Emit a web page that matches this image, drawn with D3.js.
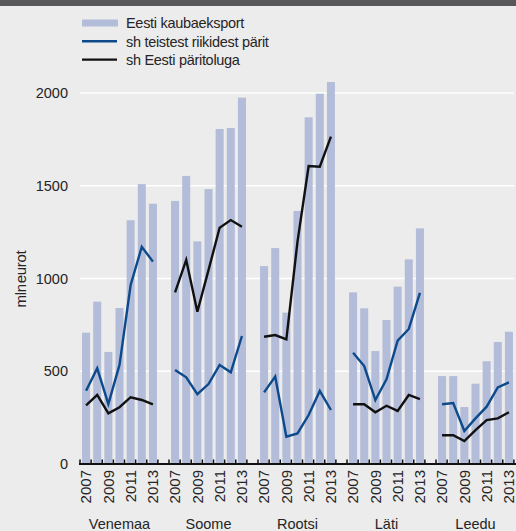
<!DOCTYPE html>
<html>
<head>
<meta charset="utf-8">
<script src="https://cdn.jsdelivr.net/npm/d3@7"></script>
<style>
  body { margin: 0; background: #ebeceb; }
  svg text { font-family: "Liberation Sans", Arial, sans-serif; fill: #262426; }
</style>
</head>
<body>
<div id="vis"></div>
<script>
const width = 516, height = 531;

// data (mln eurot)
const groups = ["Venemaa", "Soome", "Rootsi", "Läti", "Leedu"];
const years = [2007, 2008, 2009, 2010, 2011, 2012, 2013];
const yTicks = [0, 500, 1000, 1500, 2000];

const exportTotal = {
  "Venemaa": [708, 875, 604, 841, 1314, 1509, 1403],
  "Soome":   [1418, 1553, 1200, 1482, 1806, 1811, 1975],
  "Rootsi":  [1067, 1164, 816, 1364, 1869, 1996, 2059],
  "Läti":    [925, 839, 609, 776, 956, 1103, 1270],
  "Leedu":   [474, 474, 307, 433, 554, 658, 713]
};
const reExport = {
  "Venemaa": [395, 516, 323, 534, 965, 1171, 1091],
  "Soome":   [507, 467, 376, 431, 534, 494, 690],
  "Rootsi":  [386, 471, 147, 165, 264, 394, 291],
  "Läti":    [600, 528, 345, 457, 665, 728, 923],
  "Leedu":   [322, 329, 178, 246, 309, 413, 440]
};
const estonianOrigin = {
  "Venemaa": [316, 372, 273, 306, 360, 345, 322],
  "Soome":   [925, 1100, 821, 1045, 1274, 1315, 1279],
  "Rootsi":  [686, 695, 672, 1199, 1606, 1603, 1765],
  "Läti":    [322, 322, 279, 314, 286, 372, 350],
  "Leedu":   [155, 155, 124, 183, 237, 246, 279]
};

const legendItems = [
  { label: "Eesti kaubaeksport", type: "bar", color: "#b3bcd9" },
  { label: "sh teistest riikidest pärit", type: "line", color: "#0c4a8b" },
  { label: "sh Eesti päritoluga", type: "line", color: "#111111" }
];

const svg = d3.select("#vis").append("svg")
  .attr("width", width)
  .attr("height", height);

// top strip
svg.append("rect").attr("x", 0).attr("y", 0).attr("width", width).attr("height", 6)
  .attr("fill", "#58585a");

const x0 = 80.5, x1 = 514.5;
const xGroup = d3.scaleBand().domain(groups).range([x0, x1])
  .paddingInner(11 / 89).paddingOuter(0);
const xYear = d3.scaleBand().domain(years).range([0, xGroup.bandwidth()])
  .paddingInner(0.28).paddingOuter(0.14);
const y = d3.scaleLinear().domain([0, 2000]).range([464, 93]);

// gridlines
svg.append("g").selectAll("line")
  .data(yTicks.filter(d => d > 0))
  .join("line")
  .attr("x1", 80).attr("x2", 514)
  .attr("y1", d => y(d)).attr("y2", d => y(d))
  .attr("stroke", "#ffffff").attr("stroke-width", 1.6);

// y tick labels
svg.append("g").selectAll("text")
  .data(yTicks)
  .join("text")
  .attr("x", 68).attr("y", d => y(d))
  .attr("dy", "0.36em")
  .attr("text-anchor", "end")
  .style("font-size", "14.5px")
  .text(d => d);

svg.append("text")
  .attr("transform", "translate(26,279) rotate(-90)")
  .attr("text-anchor", "middle")
  .style("font-size", "15px")
  .style("letter-spacing", "-0.3px")
  .style("word-spacing", "-3px")
  .text("mln eurot");

const cx = (g, yr) => xGroup(g) + xYear(yr) + xYear.bandwidth() / 2;

// bars
groups.forEach(g => {
  svg.append("g").selectAll("rect")
    .data(years.map((yr, i) => ({ yr, v: exportTotal[g][i] })))
    .join("rect")
    .attr("x", d => xGroup(g) + xYear(d.yr))
    .attr("width", xYear.bandwidth())
    .attr("y", d => y(d.v))
    .attr("height", d => y(0) - y(d.v))
    .attr("fill", legendItems[0].color);
});

// lines
const line = d3.line().x(d => d[0]).y(d => d[1]);
[[reExport, legendItems[1].color], [estonianOrigin, legendItems[2].color]].forEach(([series, color]) => {
  groups.forEach(g => {
    svg.append("path")
      .attr("d", line(years.map((yr, i) => [cx(g, yr), y(series[g][i])])))
      .attr("fill", "none")
      .attr("stroke", color)
      .attr("stroke-width", 2.4)
      .attr("stroke-linejoin", "miter");
  });
});

// x axis
const tickXs = d3.range(0, 40).map(i => x0 - 0.5 + i * (89 / 8));
svg.append("line")
  .attr("x1", 79).attr("x2", 516)
  .attr("y1", y(0)).attr("y2", y(0))
  .attr("stroke", "#111").attr("stroke-width", 2);
svg.append("g").selectAll("line")
  .data(tickXs)
  .join("line")
  .attr("x1", d => d).attr("x2", d => d)
  .attr("y1", y(0) - 4.5).attr("y2", y(0))
  .attr("stroke", "#111").attr("stroke-width", 1.5);

groups.forEach(g => {
  svg.append("g").selectAll("text")
    .data(years.filter(yr => yr % 2 === 1))
    .join("text")
    .attr("transform", yr => `translate(${cx(g, yr) + 5.3},470) rotate(-90)`)
    .attr("text-anchor", "end")
    .style("font-size", "15px")
    .text(yr => yr);
  svg.append("text")
    .attr("x", xGroup(g) + xGroup.bandwidth() / 2)
    .attr("y", 529)
    .attr("text-anchor", "middle")
    .style("font-size", "14.5px")
    .text(g);
});

// legend
const leg = svg.append("g");
legendItems.forEach((d, i) => {
  const ly = 23 + i * 18.3;
  if (d.type === "bar") {
    leg.append("rect").attr("x", 82).attr("y", ly - 3.5).attr("width", 36).attr("height", 7)
      .attr("fill", d.color);
  } else {
    leg.append("line").attr("x1", 82).attr("x2", 117).attr("y1", ly).attr("y2", ly)
      .attr("stroke", d.color).attr("stroke-width", 2.4);
  }
  leg.append("text")
    .attr("x", 126).attr("y", ly).attr("dy", "0.36em")
    .style("font-size", "14.5px")
    .style("letter-spacing", "-0.3px")
    .text(d.label);
});
</script>
</body>
</html>
